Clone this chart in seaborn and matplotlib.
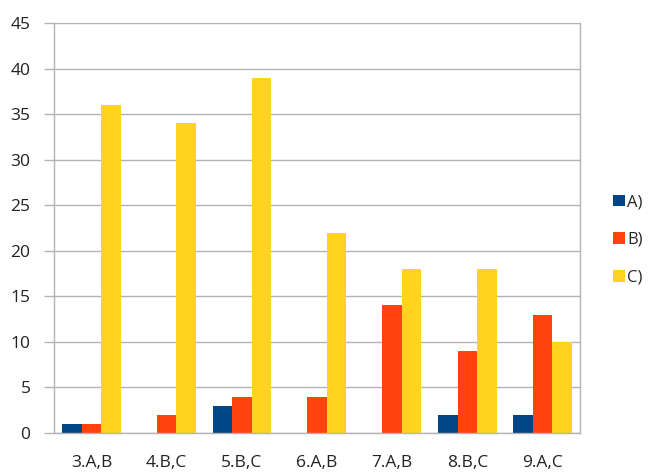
import numpy as np
import pandas as pd
import matplotlib
matplotlib.use("Agg")
import matplotlib.pyplot as plt
import seaborn as sns

# data
categories = ['3.A,B', '4.B,C', '5.B,C', '6.A,B', '7.A,B', '8.B,C', '9.A,C']
series_names = ['A)', 'B)', 'C)']
vals_a = [1, 0, 3, 0, 0, 2, 2]
vals_b = [1, 2, 4, 4, 14, 9, 13]
vals_c = [36, 34, 39, 22, 18, 18, 10]
colors = ['#004586', '#ff420e', '#ffd320']

df = pd.DataFrame({
    'cat': categories * 3,
    'series': [s for s in series_names for _ in categories],
    'value': vals_a + vals_b + vals_c,
})

sns.set_style('white')
plt.rcParams['font.family'] = ['Open Sans', 'DejaVu Sans']

fig = plt.figure(figsize=(6.53, 4.73), dpi=100)
ax = fig.add_axes([54 / 653, 40 / 473, 526 / 653, 410 / 473])

sns.barplot(data=df, x='cat', y='value', hue='series', palette=colors,
            width=0.78, gap=0, ax=ax, legend=True, saturation=1, linewidth=0)

ax.set_ylim(0, 45)
ax.set_xlim(-0.5, len(categories) - 0.5)
ax.set_yticks(np.arange(0, 46, 5))
ax.yaxis.grid(True, color='#b3b3b3', linewidth=1)
ax.set_axisbelow(True)
ax.set_xlabel('')
ax.set_ylabel('')

for side in ['left', 'bottom', 'right', 'top']:
    ax.spines[side].set_color('#b3b3b3')
    ax.spines[side].set_linewidth(1)
ax.spines['top'].set_visible(False)

ax.set_xticks(np.arange(-0.5, len(categories)), minor=True)
ax.tick_params(axis='x', which='major', length=0, pad=16, labelsize=12.5, colors='#222222')
ax.tick_params(axis='x', which='minor', length=8, color='#b3b3b3', width=1, direction='out')
ax.tick_params(axis='y', length=7, color='#b3b3b3', width=1, pad=10, labelsize=12.5,
               labelcolor='#222222', direction='out', left=True)

handles, labels = ax.get_legend_handles_labels()
ax.legend_.remove()
fig.legend(handles, labels, loc='center left', bbox_to_anchor=(613 / 653, 1 - 240 / 473),
           frameon=False, handlelength=0.7, handleheight=0.7, handletextpad=0.15,
           labelspacing=1.3, fontsize=12, borderpad=0, borderaxespad=0)

fig.savefig('out.png', dpi=100)
